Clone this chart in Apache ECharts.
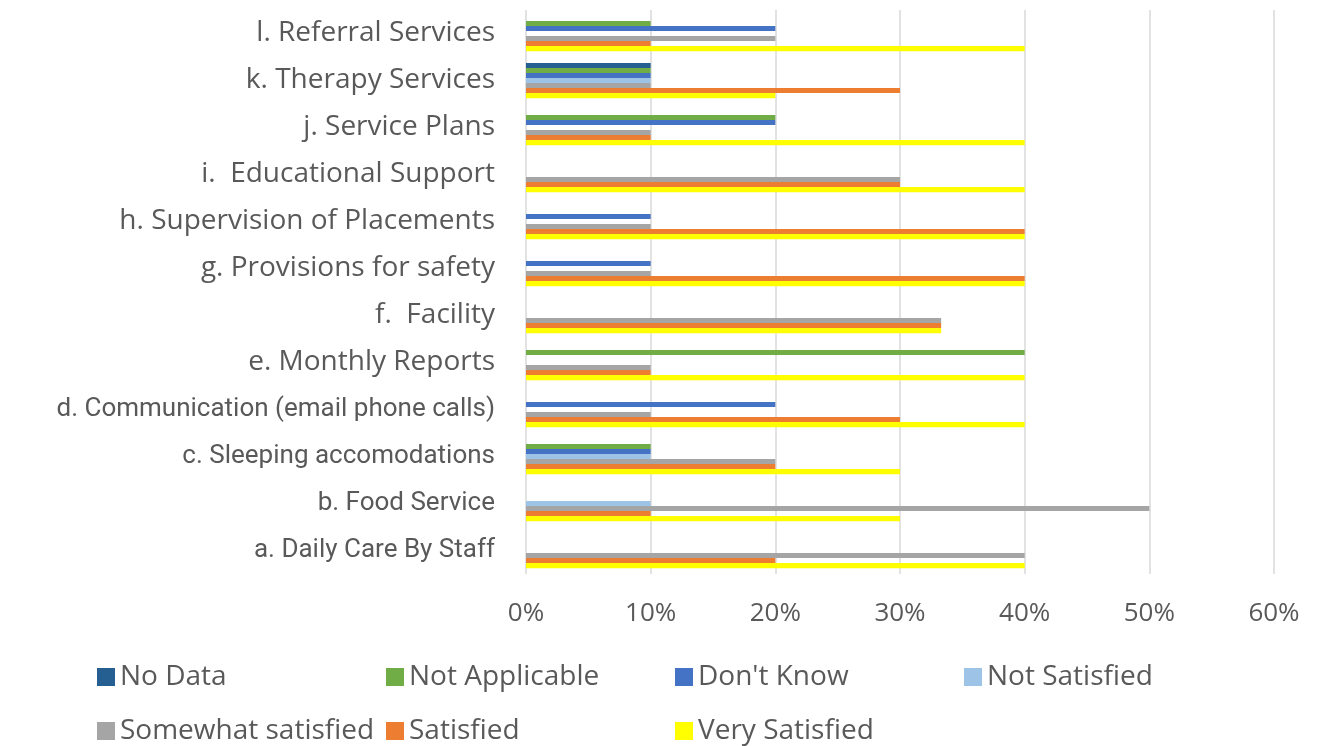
<!DOCTYPE html>
<html>
<head>
<meta charset="utf-8">
<script src="https://cdn.jsdelivr.net/npm/echarts@6/dist/echarts.min.js"></script>
<style>
  html, body { margin: 0; padding: 0; background: #fff; }
  #chart { width: 1319px; height: 746px; }
</style>
</head>
<body>
<div id="chart"></div>
<script>
// categories, bottom to top
const categories = [
  "a. Daily Care By Staff",
  "b. Food Service",
  "c. Sleeping accomodations",
  "d. Communication (email phone calls)",
  "e. Monthly Reports",
  "f.  Facility",
  "g. Provisions for safety",
  "h. Supervision of Placements",
  "i.  Educational Support",
  "j. Service Plans",
  "k. Therapy Services",
  "l. Referral Services",
];
const xTicks = [0, 10, 20, 30, 40, 50, 60];

// percent values per category (a .. l)
const noData        = [0, 0, 0, 0, 0, 0, 0, 0, 0, 0, 10, 0];
const notApplicable = [0, 0, 10, 0, 40, 0, 0, 0, 0, 20, 10, 10];
const dontKnow      = [0, 0, 10, 20, 0, 0, 10, 10, 0, 20, 10, 20];
const notSatisfied  = [0, 10, 10, 0, 0, 0, 0, 0, 0, 0, 10, 0];
const somewhat      = [40, 50, 20, 10, 10, 33.3, 10, 10, 30, 10, 10, 20];
const satisfied     = [20, 10, 20, 30, 10, 33.3, 40, 40, 30, 10, 30, 10];
const verySatisfied = [40, 30, 30, 40, 40, 33.3, 40, 40, 40, 40, 20, 40];

const seriesDefs = [
  { name: "No Data", data: noData, color: "#255E91" },
  { name: "Not Applicable", data: notApplicable, color: "#70AD47" },
  { name: "Don't Know", data: dontKnow, color: "#4472C4" },
  { name: "Not Satisfied", data: notSatisfied, color: "#9DC3E6" },
  { name: "Somewhat satisfied", data: somewhat, color: "#A5A5A5" },
  { name: "Satisfied", data: satisfied, color: "#ED7D31" },
  { name: "Very Satisfied", data: verySatisfied, color: "#FFFF00" },
];

const font = "'Open Sans', 'Noto Sans', sans-serif";
const narrowFont = "Roboto, 'Open Sans', sans-serif";
const textColor = "#595959";

// one legend per item so they sit on a fixed 289px column grid, 4 per row
const legends = seriesDefs.map((s, i) => ({
  orient: "horizontal",
  left: 92 + (i % 4) * 289,
  top: i < 4 ? 658 : 712,
  itemWidth: 18,
  itemHeight: 18,
  icon: "rect",
  data: [s.name],
  textStyle: { fontFamily: font, fontSize: 28, color: textColor, padding: [0, 0, 0, 0] },
}));

const chart = echarts.init(document.getElementById("chart"));
chart.setOption({
  animation: false,
  backgroundColor: "#fff",
  textStyle: { fontFamily: font },
  grid: { left: 526, right: 45, top: 10, bottom: 172 },
  legend: legends,
  xAxis: {
    type: "value",
    min: xTicks[0],
    max: xTicks[xTicks.length - 1],
    interval: 10,
    axisLine: { show: false },
    axisTick: { show: false },
    splitLine: { lineStyle: { color: "#d9d9d9", width: 1.5 } },
    axisLabel: { formatter: "{value}%", fontSize: 26, color: textColor, margin: 27, fontFamily: font },
  },
  yAxis: {
    type: "category",
    data: categories,
    axisLine: { show: false },
    axisTick: { show: false },
    axisLabel: {
      margin: 31,
      color: textColor,
      // the first four labels use a narrower face than the rest
      formatter: (value, idx) => (idx < 4 ? `{n|${value}}` : `{w|${value}}`),
      rich: {
        n: { fontFamily: narrowFont, fontSize: 26, color: textColor },
        w: { fontFamily: font, fontSize: 28, color: textColor },
      },
    },
  },
  series: seriesDefs.map((s) => ({
    name: s.name,
    type: "bar",
    data: s.data,
    barGap: "0%",
    barCategoryGap: "25%",
    itemStyle: { color: s.color },
  })),
});
</script>
</body>
</html>
